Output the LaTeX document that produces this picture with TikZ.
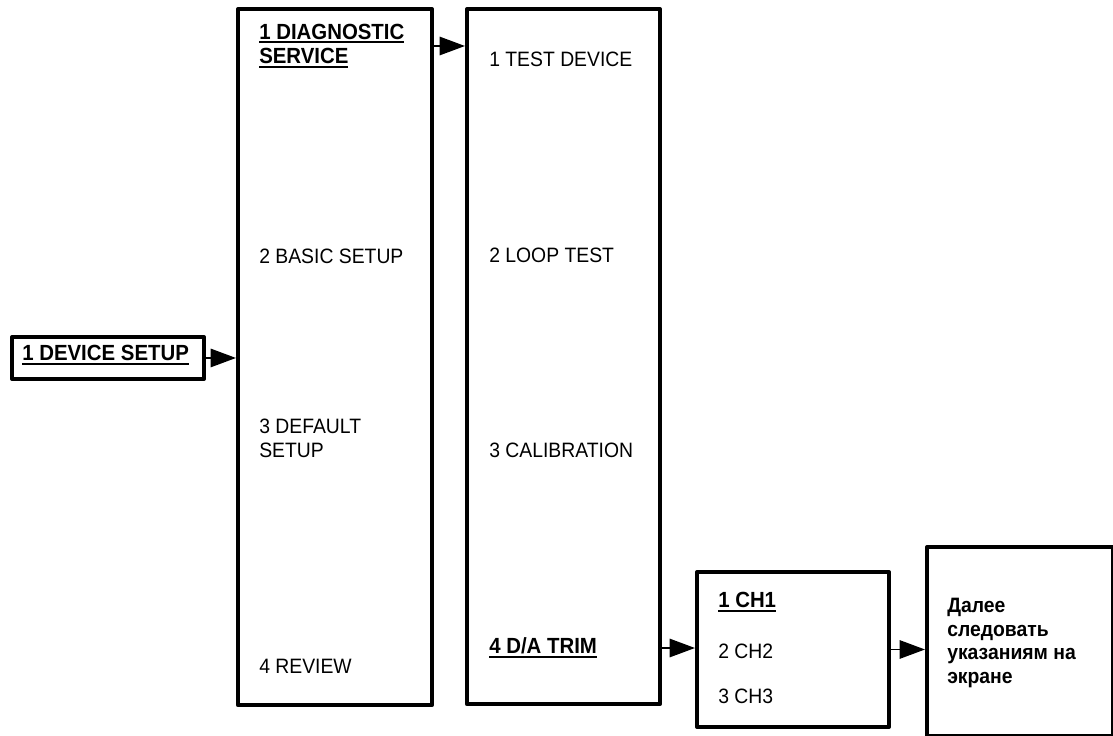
\documentclass[tikz,border=0pt]{standalone}
\usepackage{fontspec}
\setmainfont[FakeStretch=0.93]{Liberation Sans}
\usetikzlibrary{arrows.meta,positioning}
\newcommand\menuul[1]{\setbox0\hbox{#1}\rlap{\rule[-3pt]{\wd0}{1.5pt}}\box0}
\tikzset{
  every picture/.append style={line cap=round,line join=round},
  menu box/.style={draw,line width=2.8pt,inner sep=0pt,anchor=north west},
  menu item/.style={anchor=west,inner sep=0pt,align=left,font=\fontsize{14.8}{17}\selectfont},
  menu pick/.style={menu item,font=\fontsize{15.6}{17.5}\selectfont\bfseries},
  menu note/.style={menu item,font=\fontsize{14.8}{17}\selectfont\bfseries},
  menu flow/.style={line width=1.4pt,-{Triangle[length=18pt,width=13pt]}}
}
\begin{document}
\begin{tikzpicture}[x=0.025cm, y=-0.025cm]
  \useasboundingbox (0,0) rectangle (1113,736);
  % menu frames
  \node[menu box, minimum width=4.8cm, minimum height=1.05cm] (setup) at (10,335) {};
  \node[menu box, minimum width=4.85cm, minimum height=17.4cm] (main) at (236,7) {};
  \node[menu box, minimum width=4.825cm, minimum height=17.375cm] (diagmenu) at (465,7) {};
  \node[menu box, minimum width=4.8cm, minimum height=3.875cm] (chan) at (695,570) {};
  \node[menu box, minimum width=4.65cm, minimum height=4.725cm] (screen) at (925,545) {};
  % entries
  \node[menu pick] (devset) at (22,355) {\menuul{1 DEVICE SETUP}};
  \node[menu pick] (diag) at (259,46) {\menuul{1 DIAGNOSTIC}\\\menuul{SERVICE}};
  \node[menu item] (basic) at (259,256) {2 BASIC SETUP};
  \node[menu item] (deflt) at (259,438) {3 DEFAULT\\SETUP};
  \node[menu item] (review) at (259,666) {4 REVIEW};
  \node[menu item] (testdev) at (489,59) {1 TEST DEVICE};
  \node[menu item] (loop) at (489,255) {2 LOOP TEST};
  \node[menu item] (calib) at (489,450) {3 CALIBRATION};
  \node[menu pick] (trim) at (489,648) {\menuul{4 D/A TRIM}};
  \node[menu pick] (chone) at (718,602) {\menuul{1 CH1}};
  \node[menu item] (chtwo) at (718,651) {2 CH2};
  \node[menu item] (chthree) at (718,696) {3 CH3};
  \node[menu note] (follow) at (947,643)
    {Далее\\следовать\\указаниям на\\экране};
  % transitions
  \draw[menu flow] (setup.east) -- (setup.east -| main.west);
  \draw[menu flow] (diag -| main.east) -- (diag -| diagmenu.west);
  \draw[menu flow] (trim -| diagmenu.east) -- (trim -| chan.west);
  \draw[menu flow] (chan.east) -- (chan.east -| screen.west);
\end{tikzpicture}
\end{document}
